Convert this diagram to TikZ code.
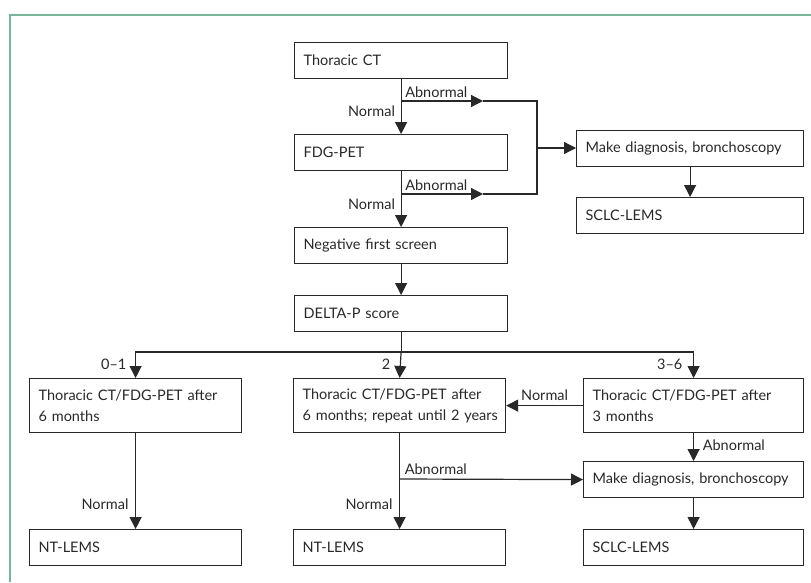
\documentclass[tikz,border=0pt]{standalone}
\usepackage{fontspec}
\setmainfont{Lato}[WordSpace=0.75]
\usetikzlibrary{arrows.meta, positioning, calc}

\definecolor{framegreen}{RGB}{122,180,154}
\definecolor{inkgray}{RGB}{40,40,40}

\begin{document}
\begin{tikzpicture}[
    x=1pt, y=-1pt,
    stepbox/.style={rectangle, draw=inkgray, line width=1.2pt, anchor=north west,
        minimum height=#1, text width=195pt, inner xsep=9pt, align=left,
        font=\fontsize{14.5}{21}\selectfont, text=inkgray},
    stepbox/.default=36pt,
    dep/.style={-{Triangle[length=12pt,width=12pt]}, line width=1.2pt, draw=inkgray},
    link/.style={line width=1.2pt, draw=inkgray},
    label/.style={font=\fontsize{14.5}{18}\selectfont, text=inkgray, inner sep=1pt}
]
\useasboundingbox (0,0) rectangle (811,582);

% frame
\draw[framegreen, line width=1.6pt] (811,15) -- (10,15) -- (10,582);

% first screen
\node[stepbox] (ct) at (294,42) {Thoracic CT};
\node[stepbox] (pet) at (294,134) {FDG-PET};
\node[stepbox] (neg) at (294,227) {Negative first screen};
\node[stepbox] (delta) at (294,295) {DELTA-P score};

% positive first screen
\node[stepbox, text width=209pt] (diag1) at (576,130) {\mbox{Make diagnosis, bronchoscopy}};
\node[stepbox, text width=209pt] (sclc1) at (576,197) {SCLC-LEMS};

% follow-up by score
\node[stepbox=54pt, text width=194pt] (low) at (29,378) {Thoracic CT/FDG-PET after\\6 months};
\node[stepbox=54pt, text width=194pt] (mid) at (293,378) {\mbox{Thoracic CT/FDG-PET after}\\\mbox{6 months; repeat until 2 years}};
\node[stepbox=54pt, text width=202pt] (high) at (583,378) {Thoracic CT/FDG-PET after\\3 months};
\node[stepbox, text width=202pt] (diag2) at (583,461) {\mbox{Make diagnosis, bronchoscopy}};

% outcomes
\node[stepbox, text width=194pt] (nt1) at (29,529) {NT-LEMS};
\node[stepbox, text width=194pt] (nt2) at (293,529) {NT-LEMS};
\node[stepbox, text width=202pt] (sclc2) at (583,529) {SCLC-LEMS};

% junctions
\coordinate (j1) at (ct.south |- 0,101);
\coordinate (j2) at (pet.south |- 0,194);
\coordinate (t1) at (483,101);
\coordinate (t2) at (483,194);
\coordinate (r1) at (537,101);
\coordinate (r2) at (537,194);
\coordinate (r3) at (537,148);
\coordinate (split) at (delta.south |- 0,352);
\coordinate (j3) at (mid.south |- 0,479);

% first screen flow
\draw[dep] (ct.south) -- (pet.north);
\draw[dep] (pet.south) -- (neg.north);
\draw[dep] (neg.south) -- (delta.north);
\draw[dep] (j1) -- (t1);
\draw[dep] (j2) -- (t2);
\draw[link] (t1) -- (r1) -- (r2) -- (t2);
\draw[dep] (r3) -- (r3 -| diag1.west);
\draw[dep] (diag1.south) -- (sclc1.north);

\node[label, anchor=south west] at ($(j1)+(3,-2)$) {Abnormal};
\node[label, anchor=east] at ($(j1)+(-5,10)$) {Normal};
\node[label, anchor=south west] at ($(j2)+(3,-2)$) {Abnormal};
\node[label, anchor=east] at ($(j2)+(-5,10)$) {Normal};

% score split
\draw[link] (delta.south) -- (split);
\draw[dep] (split) -| (low.north);
\draw[dep] (split) -- (mid.north);
\draw[dep] (split) -| (high.north);
\node[label, anchor=east] at ($(low.north)+(-8,-14)$) {0–1};
\node[label, anchor=east] at ($(mid.north)+(-8,-14)$) {2};
\node[label, anchor=east] at ($(high.north)+(-10,-14)$) {3–6};

% follow-up flow
\draw[dep] (low.south) -- (nt1.north);
\draw[dep] (mid.south) -- (nt2.north);
\draw[dep] (high.west) -- (mid.east);
\draw[dep] (high.south) -- (diag2.north);
\draw[dep] (j3) -- (diag2.west);
\draw[dep] (diag2.south) -- (sclc2.north);

\node[label, anchor=south] at ($(high.west)!0.5!(mid.east)+(0,-4)$) {Normal};
\node[label, anchor=west] at ($(high.south)+(8,12)$) {Abnormal};
\node[label, anchor=south west] at ($(j3)+(4,-3)$) {Abnormal};
\node[label, anchor=east] at ($(low.south |- 0,504)+(-6,0)$) {Normal};
\node[label, anchor=east] at ($(mid.south |- 0,504)+(-6,0)$) {Normal};

\end{tikzpicture}
\end{document}
